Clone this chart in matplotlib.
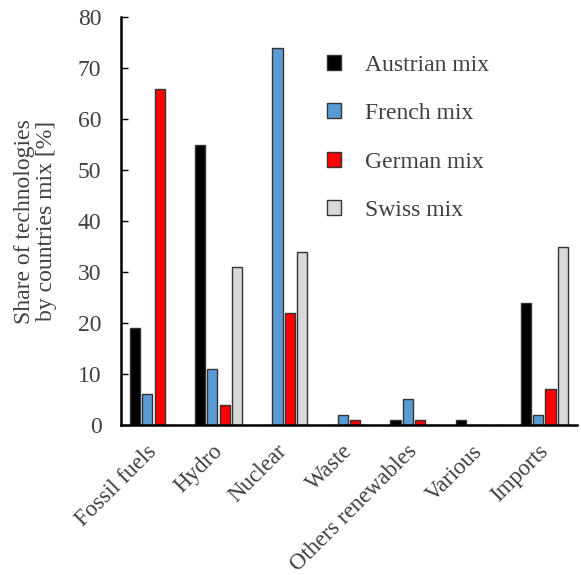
import matplotlib
matplotlib.use("Agg")
import matplotlib.pyplot as plt
import matplotlib.transforms as mtransforms
import numpy as np

categories = ["Fossil fuels", "Hydro", "Nuclear", "Waste", "Others renewables", "Various", "Imports"]
series_names = ["Austrian mix", "French mix", "German mix", "Swiss mix"]
austrian = [19, 55, 0, 0, 1, 1, 24]
french = [6, 11, 74, 2, 5, 0, 2]
german = [66, 4, 22, 1, 1, 0, 7]
swiss = [0, 31, 34, 0, 0, 0, 35]
colors = ["#000000", "#5B9BD5", "#FF0000", "#D9D9D9"]
yticks = [0, 10, 20, 30, 40, 50, 60, 70, 80]

plt.rcParams['font.family'] = ['Liberation Serif', 'DejaVu Serif']
txt = "#404040"

fig = plt.figure(figsize=(5.81, 5.75), dpi=100)
ax = fig.add_axes([0.208, 0.261, 0.785, 0.709])

x = np.arange(len(categories))
w = 0.19
data = [austrian, french, german, swiss]
for i, (vals, c, name) in enumerate(zip(data, colors, series_names)):
    ax.bar(x + (i - 1.5) * w, vals, width=w * 0.82, color=c, edgecolor="#333333",
           linewidth=1.0, label=name)

ax.set_xlim(-0.5, len(categories) - 0.5)
ax.set_ylim(0, 80)
ax.set_yticks(yticks)
ax.set_xticks(x)
ax.set_xticklabels(categories, rotation=45, ha="right", va="top", rotation_mode="anchor",
                   fontsize=16.5, color=txt)
ax.tick_params(axis="x", length=0, pad=11.5)
offset = mtransforms.ScaledTranslation(-7 / 100, 0, fig.dpi_scale_trans)
for lbl in ax.get_xticklabels():
    lbl.set_transform(lbl.get_transform() + offset)
ax.tick_params(axis="y", direction="in", length=5, width=1, labelsize=17,
               labelcolor=txt, pad=14)
for s in ["top", "right"]:
    ax.spines[s].set_visible(False)
for s in ["left", "bottom"]:
    ax.spines[s].set_linewidth(1.8)
ax.set_ylabel("Share of technologies\nby countries mix [%]", fontsize=17, color=txt,
              linespacing=1.05, labelpad=15)

leg = ax.legend(loc="upper left", bbox_to_anchor=(0.405, 0.96), frameon=False,
                fontsize=17, labelcolor=txt, handlelength=0.6, handleheight=0.6,
                handletextpad=1.0, labelspacing=1.16)

fig.savefig("out.png", dpi=100)
